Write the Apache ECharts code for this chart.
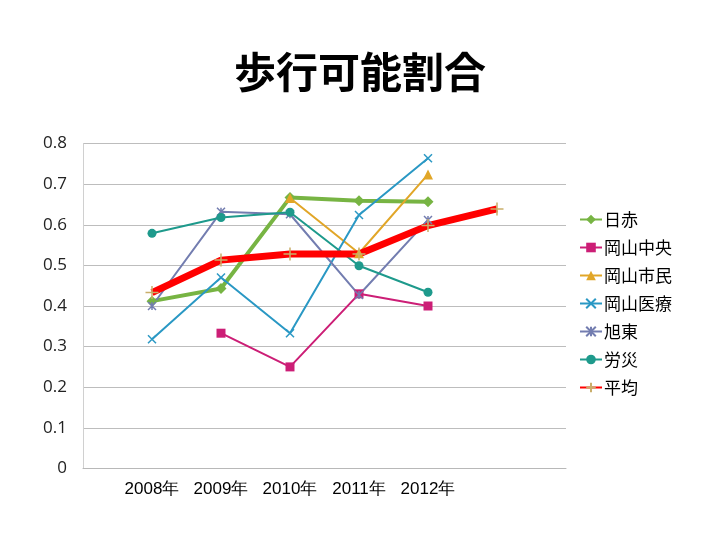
<!DOCTYPE html>
<html>
<head>
<meta charset="utf-8">
<script src="https://cdn.jsdelivr.net/npm/echarts@6/dist/echarts.min.js"></script>
<style>html,body{margin:0;padding:0;background:#fff;}#c{width:720px;height:540px;}</style>
</head>
<body>
<div id="c"></div>
<script>
var categories = ['', '2008年', '2009年', '2010年', '2011年', '2012年', '', ''];
var nisseki   = [null, 0.412, 0.443, 0.667, 0.659, 0.657, null, null];
var chuo      = [null, null, 0.333, 0.250, 0.430, 0.400, null, null];
var shimin    = [null, null, null, 0.666, 0.530, 0.724, null, null];
var iryo      = [null, 0.318, 0.470, 0.333, 0.624, 0.764, null, null];
var kyokuto   = [null, 0.400, 0.632, 0.626, 0.427, 0.612, null, null];
var rousai    = [null, 0.579, 0.618, 0.631, 0.499, 0.434, null, null];
var heikin    = [null, 0.433, 0.513, 0.528, 0.528, 0.598, 0.639, null];
var yTicks = [0, 0.1, 0.2, 0.3, 0.4, 0.5, 0.6, 0.7, 0.8];

var xPath = 'path://M0,0L10,10M10,0L0,10';
var starPath = 'path://M0,0L10,10M10,0L0,10M5,0L5,10';
var plusPath = 'path://M5,0L5,10M0,5L10,5';

function mk(name, data, color, width, symbol, size, extra) {
  var s = {
    name: name, type: 'line', data: data, connectNulls: false,
    symbol: symbol, symbolSize: size, showSymbol: true,
    lineStyle: {color: color, width: width},
    itemStyle: {color: color},
    emphasis: {disabled: true},
    animation: false
  };
  if (extra) for (var k in extra) s[k] = extra[k];
  return s;
}

var chart = echarts.init(document.getElementById('c'), null, {renderer: 'canvas'});
chart.setOption({
  animation: false,
  backgroundColor: '#ffffff',
  title: {
    text: '歩行可能割合', left: 'center', top: 46,
    textStyle: {fontFamily: 'Noto Sans CJK JP', fontSize: 42, fontWeight: 'bold', color: '#000'}
  },
  grid: {left: 83, right: 154, top: 143.6, bottom: 71.6, containLabel: false},
  legend: {
    orient: 'vertical', left: 579, top: 211, padding: 0,
    itemWidth: 22, itemHeight: 12, itemGap: 11,
    textStyle: {fontFamily: 'Noto Sans CJK JP', fontSize: 17, color: '#000', padding: [0,0,0,-3]},
    data: ['日赤', '岡山中央', '岡山市民', '岡山医療', '旭東', '労災', '平均']
  },
  xAxis: {
    type: 'category', data: categories, boundaryGap: false,
    axisLine: {show: true, lineStyle: {color: '#b8b8b8', width: 1}},
    axisTick: {show: false},
    axisLabel: {interval: 0, margin: 12, fontFamily: 'Liberation Sans', fontSize: 17, color: '#000'},
    splitLine: {show: false}
  },
  yAxis: {
    type: 'value', min: yTicks[0], max: yTicks[yTicks.length - 1], interval: 0.1,
    axisLine: {show: true, lineStyle: {color: '#d0d0d0'}},
    axisTick: {show: false},
    axisLabel: {
      margin: 16, fontFamily: 'Open Sans', fontSize: 17, color: '#222',
      formatter: function (v) { return String(Math.round(v * 10) / 10); }
    },
    splitLine: {show: true, lineStyle: {color: '#bdbdbd', width: 1}}
  },
  series: [
    mk('日赤', nisseki, '#77B443', 4, 'diamond', 11),
    mk('岡山中央', chuo, '#CC1E76', 2, 'rect', 9),
    mk('岡山市民', shimin, '#E1A628', 2, 'triangle', 10),
    mk('岡山医療', iryo, '#2A98C4', 2, xPath, 8, {itemStyle: {color: '#2A98C4', borderColor: '#2A98C4', borderWidth: 1.5}}),
    mk('旭東', kyokuto, '#737DB0', 2, starPath, 8, {itemStyle: {color: '#737DB0', borderColor: '#737DB0', borderWidth: 1.5}}),
    mk('労災', rousai, '#1E9A8C', 2, 'circle', 9),
    mk('平均', heikin, '#FF0000', 7, plusPath, 13, {itemStyle: {color: '#C9AE6A', borderColor: '#C9AE6A', borderWidth: 1.5}})
  ]
});
</script>
</body>
</html>
